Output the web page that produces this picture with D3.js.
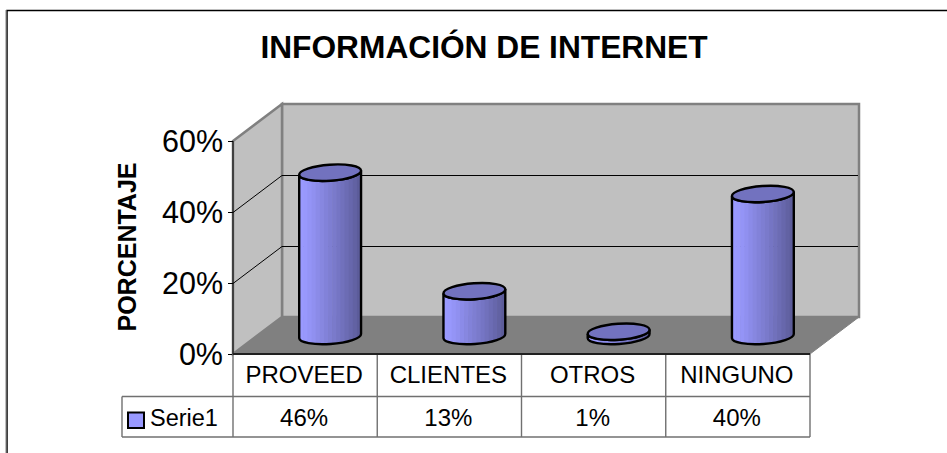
<!DOCTYPE html>
<html><head><meta charset="utf-8">
<script src="https://cdn.jsdelivr.net/npm/d3@7"></script>
<style>html,body{margin:0;padding:0;background:#fff}svg{display:block}text{font-family:"Liberation Sans",Arial,sans-serif;fill:#000}</style>
</head><body><svg id="c" width="947" height="453"></svg>
<script>
const categories = ["PROVEED","CLIENTES","OTROS","NINGUNO"];
const values = [46,12.6,1.2,40];
const valueLabels = ["46%","13%","1%","40%"];
const seriesName = "Serie1";
const yTicks = [0,20,40,60];
const titleText = "INFORMACIÓN DE INTERNET";
const yTitle = "PORCENTAJE";
const stripColors = ["#9999ff","#9898fc","#9494f6","#9090f0","#8b8be8","#8787e0","#8282d9","#7e7ed2","#7a7acb","#7575c4","#7171bc","#6c6cb4","#6767ac","#6262a3","#5c5c9a"];

const svg = d3.select("#c");
const L=233,R=810,B=354,T=141,DX=49,DY=-37;
const x = d3.scaleBand().domain(categories).range([L,R]);
const y = d3.scaleLinear().domain([0,60]).range([B,T]);

svg.append("path").attr("d","M7,453V10.5H947").attr("fill","none").attr("stroke","#000").attr("stroke-width",1.5);
svg.append("line").attr("x1",6).attr("x2",6).attr("y1",10).attr("y2",453).attr("stroke","#808080").attr("stroke-width",1);
svg.append("text").attr("x",484).attr("y",58).attr("text-anchor","middle").attr("font-size",31.7).attr("font-weight","bold").text(titleText);

const pts=a=>a.map(p=>p.join(",")).join(" ");
svg.append("polygon").attr("points",pts([[L+DX,T+DY],[R+DX,T+DY],[R+DX,B+DY],[L+DX,B+DY]])).attr("fill","#c0c0c0").attr("stroke","#808080").attr("stroke-width",2.5);
svg.append("polygon").attr("points",pts([[L,T],[L+DX,T+DY],[L+DX,B+DY],[L,B]])).attr("fill","#c0c0c0").attr("stroke","#808080").attr("stroke-width",2.5);
svg.append("polygon").attr("points",pts([[L,B],[L+DX,B+DY],[R+DX,B+DY],[R,B]])).attr("fill","#808080");
svg.append("line").attr("x1",R).attr("y1",B).attr("x2",R+DX).attr("y2",B+DY).attr("stroke","#808080").attr("stroke-width",1);
svg.append("line").attr("x1",L).attr("y1",T).attr("x2",L).attr("y2",B).attr("stroke","#404040").attr("stroke-width",2);
yTicks.filter(t=>t>0&&t<60).forEach(t=>{
  svg.append("path").attr("fill","none").attr("stroke","#000").attr("d",`M${L},${y(t)+.5}L${L+DX},${y(t)+DY+.5}H${R+DX-1}`);
});
yTicks.forEach(t=>{
  svg.append("line").attr("x1",L-5).attr("x2",L).attr("y1",y(t)+.5).attr("y2",y(t)+.5).attr("stroke","#000");
  svg.append("text").attr("x",L-10).attr("y",y(t)+11).attr("text-anchor","end").attr("font-size",30.5).text(t+"%");
});
svg.append("text").attr("transform",`translate(136,247) rotate(-90)`).attr("text-anchor","middle").attr("font-size",25).attr("font-weight","bold").text(yTitle);

const rx=31,ry=8,tilt=-4;
const t=tilt*Math.PI/180;
const base=y(0)-18, scaleH=v=>y(0)-y(v);
categories.forEach((c,i)=>{
  const cx=x(c)+x.bandwidth()/2+25, v=values[i];
  const by=base, ty=base-scaleH(v);
  const ex=rx*Math.cos(t), ey=rx*Math.sin(t);
  const g=svg.append("g");
  const d=`M${cx-ex},${ty-ey}L${cx-ex},${by-ey}A${rx},${ry} ${tilt} 0 0 ${cx+ex},${by+ey}L${cx+ex},${ty+ey}A${rx},${ry} ${tilt} 0 1 ${cx-ex},${ty-ey}Z`;
  const id="clip"+i;
  g.append("clipPath").attr("id",id).append("path").attr("d",d);
  const sx=d3.scaleBand().domain(d3.range(stripColors.length)).range([cx-ex,cx+ex]);
  g.append("g").attr("clip-path",`url(#${id})`).selectAll("rect").data(stripColors).join("rect")
    .attr("x",(s,k)=>sx(k)).attr("width",sx.bandwidth()+.6).attr("y",ty-ry-6).attr("height",by-ty+2*ry+14).attr("fill",s=>s);
  g.append("path").attr("d",d).attr("fill","none").attr("stroke","#000").attr("stroke-width",2.4);
  g.append("ellipse").attr("cx",cx).attr("cy",ty).attr("rx",rx).attr("ry",ry)
    .attr("transform",`rotate(${tilt} ${cx} ${ty})`).attr("fill","#7272bf").attr("stroke","#000").attr("stroke-width",2.4);
});

const rows=[B,396.5,437];
const tbl=svg.append("g").attr("stroke","#707070").attr("stroke-width",1.4).attr("fill","none");
const colEdges=[...categories.map(c=>x(c)),R];
tbl.append("line").attr("x1",122).attr("x2",R).attr("y1",rows[1]).attr("y2",rows[1]);
tbl.append("line").attr("x1",122).attr("x2",R).attr("y1",rows[2]).attr("y2",rows[2]);
tbl.append("line").attr("x1",122).attr("x2",122).attr("y1",rows[1]).attr("y2",rows[2]);
colEdges.forEach(e=>tbl.append("line").attr("x1",e).attr("x2",e).attr("y1",rows[0]).attr("y2",rows[2]));
svg.append("line").attr("x1",L).attr("x2",R).attr("y1",B).attr("y2",B).attr("stroke","#202020").attr("stroke-width",2);
categories.forEach((c,i)=>{
  const mx=x(c)+x.bandwidth()/2-1;
  svg.append("text").attr("x",mx).attr("y",383).attr("text-anchor","middle").attr("font-size",24).text(c);
  svg.append("text").attr("x",mx).attr("y",426).attr("text-anchor","middle").attr("font-size",24).text(valueLabels[i]);
});
svg.append("rect").attr("x",128).attr("y",412.5).attr("width",16).attr("height",15.5).attr("fill",stripColors[0]).attr("stroke","#000").attr("stroke-width",2);
svg.append("text").attr("x",150).attr("y",426).attr("font-size",23.5).text(seriesName);
</script></body></html>
